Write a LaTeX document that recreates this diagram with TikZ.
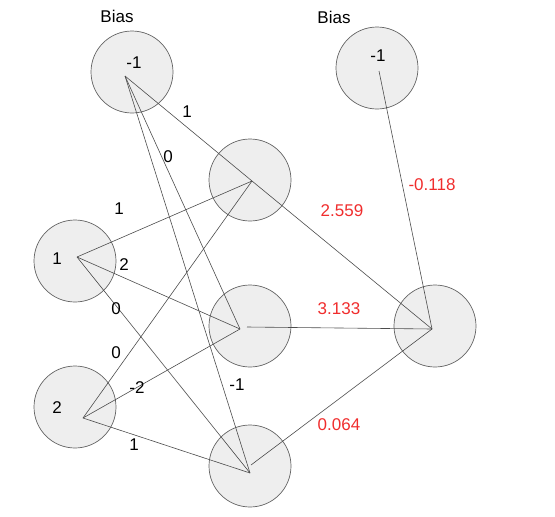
\documentclass[tikz,border=0pt]{standalone}
\usepackage{fontspec}
\setmainfont{Liberation Sans}
\usetikzlibrary{positioning, calc}
\definecolor{nodefill}{RGB}{238,238,238}
\definecolor{nodeline}{RGB}{100,100,100}
\definecolor{weightred}{RGB}{240,45,45}
\tikzset{
  neuron/.style={
    circle, minimum size=82pt, inner sep=0pt,
    draw=nodeline, fill=nodefill, line width=0.7pt
  },
  txt/.style={font=\fontsize{17}{20}\selectfont, inner sep=0pt},
  wlabel/.style={txt, text=black},
  rlabel/.style={txt, text=weightred},
  link/.style={draw=black!70, line width=0.6pt}
}

\begin{document}
\begin{tikzpicture}[x=1pt, y=-1pt]
  \useasboundingbox (0,0) rectangle (555,517);

  % Neurons
  \node[neuron] (b1) at (132,72) {};
  \node[neuron] (i1) at (75,261) {};
  \node[neuron] (i2) at (75,407) {};
  \node[neuron] (h1) at (250,180) {};
  \node[neuron] (h2) at (250,326) {};
  \node[neuron] (h3) at (250,466) {};
  \node[neuron] (b2) at (377,68) {};
  \node[neuron] (out) at (435,326) {};

  % Points where the links meet inside each neuron
  \coordinate (b1p) at ($(b1.center)+(-7,4)$);
  \coordinate (i1p) at ($(i1.center)+(2,-4)$);
  \coordinate (i2p) at ($(i2.center)+(8,11)$);
  \coordinate (h1p) at ($(h1.center)+(2,1)$);
  \coordinate (h2p) at ($(h2.center)+(-10,3)$);
  \coordinate (h2q) at ($(h2.center)+(-3,1)$);
  \coordinate (h3p) at ($(h3.center)+(0,7)$);
  \coordinate (h3q) at ($(h3.center)+(1,-1)$);
  \coordinate (b2p) at ($(b2.center)+(2,3)$);
  \coordinate (outp) at ($(out.center)+(-3,3)$);

  % Node texts
  \node[txt] (b1txt) at (134,63) {-1};
  \node[txt] (i1txt) at (57,259) {1};
  \node[txt] (i2txt) at (57,408) {2};
  \node[txt] (b2txt) at (378,56) {-1};
  \node[txt] (b1name) at (117,16) {Bias};
  \node[txt] (b2name) at (334,17) {Bias};

  % Connections into the hidden layer
  \foreach \src in {b1p, i1p, i2p} {
    \foreach \dst in {h1p, h2p, h3p} {
      \draw[link] (\src) -- (\dst);
    }
  }

  % Connections into the output
  \foreach \src in {h1p, h2q, h3q, b2p} {
    \draw[link] (\src) -- (outp);
  }

  % Hidden layer weights
  \node[wlabel] (w_b1h1) at (187,112) {1};
  \node[wlabel] (w_b1h2) at (168,157) {0};
  \node[wlabel] (w_b1h3) at (237,385) {-1};
  \node[wlabel] (w_i1h1) at (119,209) {1};
  \node[wlabel] (w_i1h2) at (124,265) {2};
  \node[wlabel] (w_i1h3) at (116,309) {0};
  \node[wlabel] (w_i2h1) at (116,353) {0};
  \node[wlabel] (w_i2h2) at (137,388) {-2};
  \node[wlabel] (w_i2h3) at (134,445) {1};

  % Output weights
  \node[rlabel] (w_b2o) at (432,185) {-0.118};
  \node[rlabel] (w_h1o) at (342,211) {2.559};
  \node[rlabel] (w_h2o) at (339,309) {3.133};
  \node[rlabel] (w_h3o) at (339,425) {0.064};

\end{tikzpicture}
\end{document}
